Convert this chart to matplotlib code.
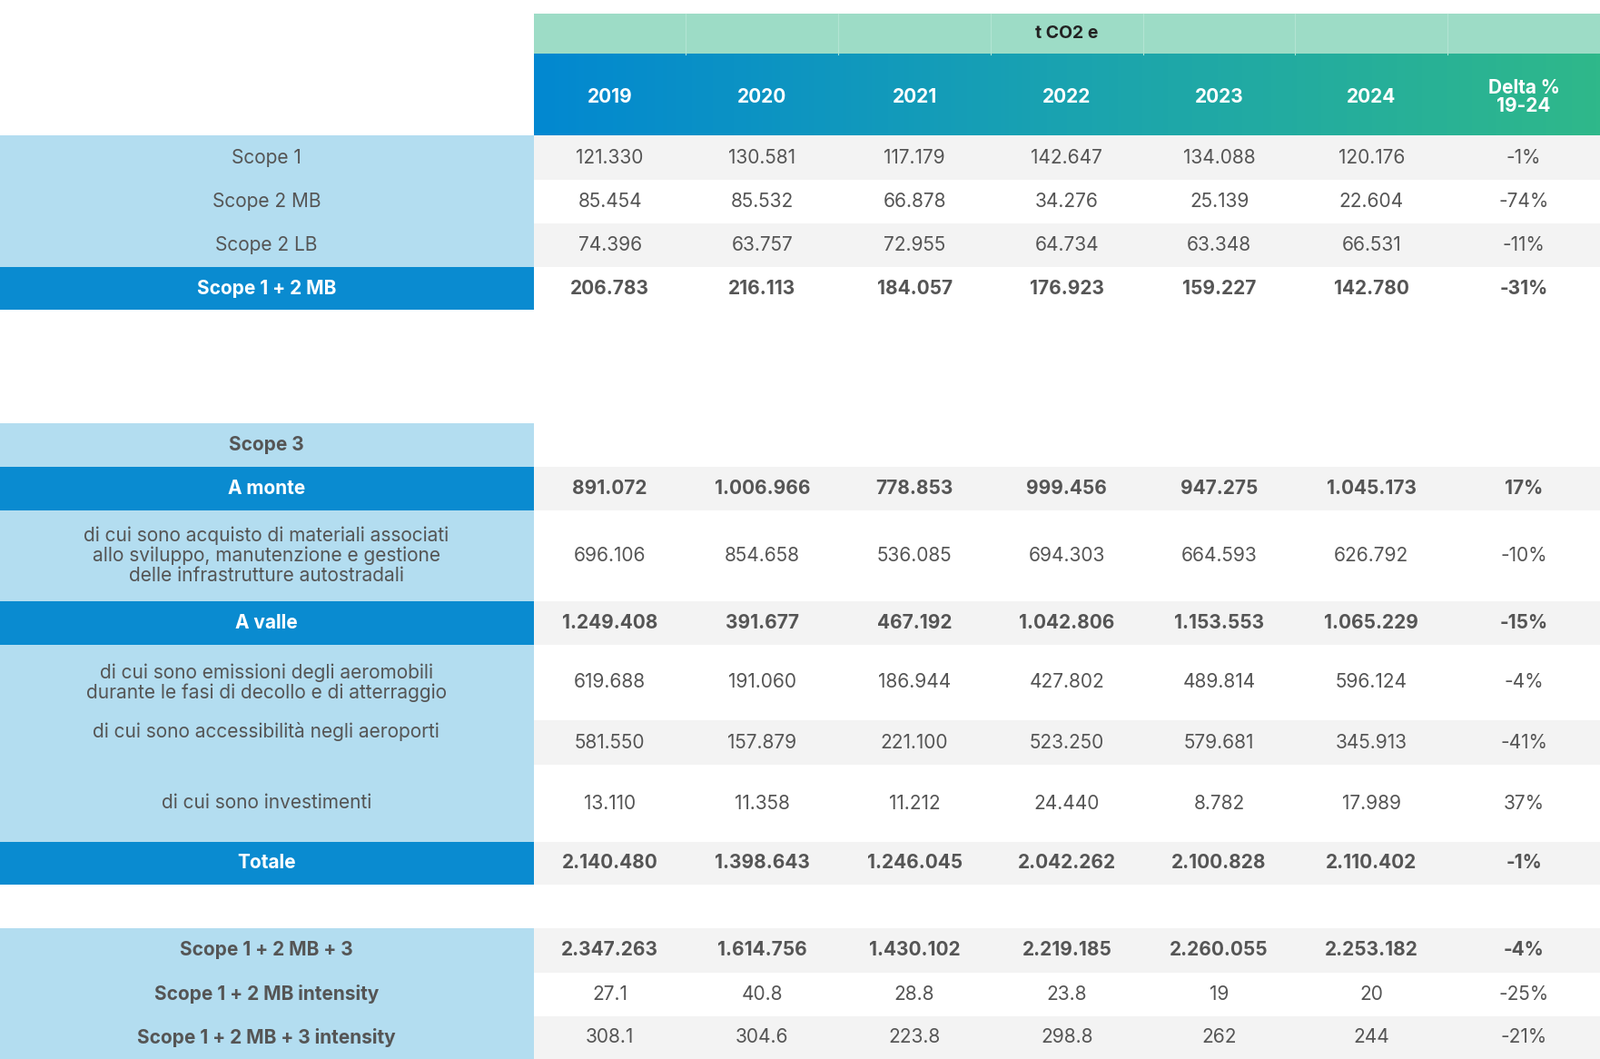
import matplotlib
matplotlib.use("Agg")
import matplotlib.pyplot as plt
from matplotlib.patches import Rectangle
import numpy as np

years = ["2019", "2020", "2021", "2022", "2023", "2024", "Delta %\n19-24"]
labels = ["Scope 1", "Scope 2 MB", "Scope 2 LB", "Scope 1 + 2 MB", "Scope 3", "A monte",
          "di cui sono acquisto di materiali associati\nallo sviluppo, manutenzione e gestione\ndelle infrastrutture autostradali",
          "A valle",
          "di cui sono emissioni degli aeromobili\ndurante le fasi di decollo e di atterraggio",
          "di cui sono accessibilità negli aeroporti",
          "di cui sono investimenti", "Totale",
          "Scope 1 + 2 MB + 3", "Scope 1 + 2 MB intensity", "Scope 1 + 2 MB + 3 intensity"]
values = [
    ["121.330", "130.581", "117.179", "142.647", "134.088", "120.176", "-1%"],
    ["85.454", "85.532", "66.878", "34.276", "25.139", "22.604", "-74%"],
    ["74.396", "63.757", "72.955", "64.734", "63.348", "66.531", "-11%"],
    ["206.783", "216.113", "184.057", "176.923", "159.227", "142.780", "-31%"],
    None,
    ["891.072", "1.006.966", "778.853", "999.456", "947.275", "1.045.173", "17%"],
    ["696.106", "854.658", "536.085", "694.303", "664.593", "626.792", "-10%"],
    ["1.249.408", "391.677", "467.192", "1.042.806", "1.153.553", "1.065.229", "-15%"],
    ["619.688", "191.060", "186.944", "427.802", "489.814", "596.124", "-4%"],
    ["581.550", "157.879", "221.100", "523.250", "579.681", "345.913", "-41%"],
    ["13.110", "11.358", "11.212", "24.440", "8.782", "17.989", "37%"],
    ["2.140.480", "1.398.643", "1.246.045", "2.042.262", "2.100.828", "2.110.402", "-1%"],
    ["2.347.263", "1.614.756", "1.430.102", "2.219.185", "2.260.055", "2.253.182", "-4%"],
    ["27.1", "40.8", "28.8", "23.8", "19", "20", "-25%"],
    ["308.1", "304.6", "223.8", "298.8", "262", "244", "-21%"],
]
# layout (display units)
row_y = [(133,176),(176,219),(219,262),(262,304),(415,458),(458,500),(500,589),(589,632),
         (632,706),(706,750),(750,825),(825,867),(910,953),(953,996),(996,1038)]
label_y = [None]*15; label_y[9] = 717; label_y[10] = 787
style = ["n","n","n","D","B","D","n","D","n","n","n","D","B","B","B"]
grey = [1,0,1,0,0,1,0,1,0,1,0,1,1,0,1]
bold_vals = [0,0,0,1,0,1,0,1,0,0,0,1,1,0,0]

W, H = 1568, 1038
fig = plt.figure(figsize=(17.62, 11.66), dpi=100)
ax = fig.add_axes([0, 0, 1, 1])
ax.set_xlim(0, W); ax.set_ylim(H, 0); ax.axis("off")
FONT = "Inter"
TXT = "#555555"
DARK = "#0a8bd0"; LIGHT = "#b3ddf0"
xb = np.linspace(523, 1568, 8)
xc = (xb[:-1] + xb[1:]) / 2

# header
ax.add_patch(Rectangle((523, 13), W-523, 40, color="#9ddcc6", lw=0))
for x in xb[1:-1]:
    ax.plot([x, x], [13, 53], color="#b2e4d3", lw=0.8)
ax.text((523+W)/2, 33, "t CO2 e", ha="center", va="center", fontsize=14, fontweight="bold", family=FONT, color="#222")
grad = np.linspace(0, 1, 256).reshape(1, -1)
from matplotlib.colors import LinearSegmentedColormap
cm = LinearSegmentedColormap.from_list("g", ["#0288d1", "#1aa3b0", "#2fb88a"])
ax.imshow(grad, extent=(523, W, 133, 53), aspect="auto", cmap=cm, zorder=1)
for i, y in enumerate(years):
    ax.text(xc[i], 95, y, ha="center", va="center", fontsize=15, fontweight="bold", family=FONT,
            color="white", linespacing=1.0, zorder=3)

for r, (y0, y1) in enumerate(row_y):
    s = style[r]
    ax.add_patch(Rectangle((0, y0), 523, y1-y0, color=DARK if s == "D" else LIGHT, lw=0))
    if values[r] is not None and grey[r]:
        ax.add_patch(Rectangle((523, y0), W-523, y1-y0, color="#f3f3f3", lw=0))
    ly = label_y[r] if label_y[r] else (y0+y1)/2
    ax.text(261, ly, labels[r], ha="center", va="center", fontsize=15, family=FONT,
            fontweight="bold" if s in "DB" else "normal",
            color="white" if s == "D" else TXT, linespacing=1.1)
    if values[r] is not None:
        for i, v in enumerate(values[r]):
            ax.text(xc[i], (y0+y1)/2, v, ha="center", va="center", fontsize=15, family=FONT,
                    fontweight="bold" if bold_vals[r] else "normal", color=TXT)

fig.savefig("out.png", dpi=100)
